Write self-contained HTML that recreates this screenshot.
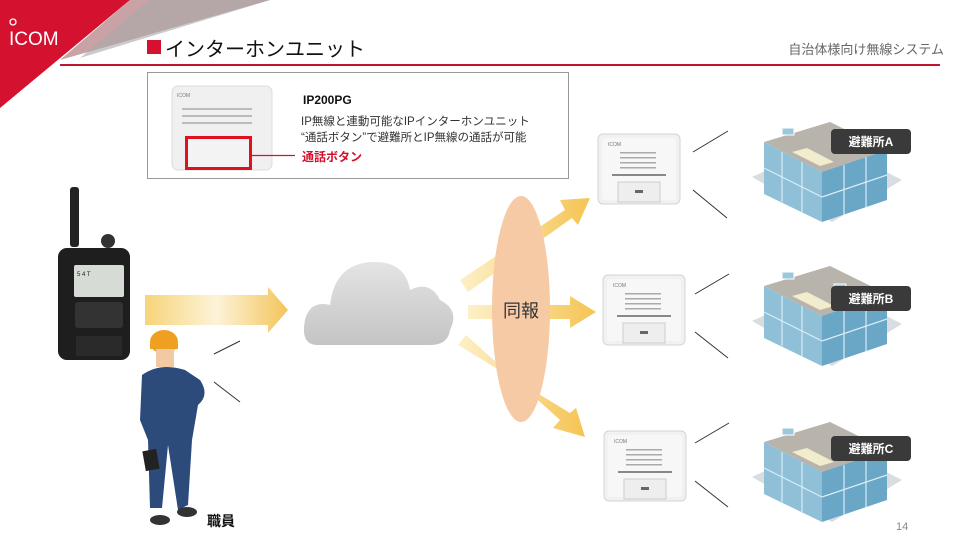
<!DOCTYPE html>
<html><head><meta charset="utf-8"><style>
html,body{margin:0;padding:0;background:#fff}
svg{display:block}
text{font-family:"Liberation Sans","Noto Sans CJK JP",sans-serif}
</style></head><body>
<svg width="979" height="552" viewBox="0 0 979 552" xmlns="http://www.w3.org/2000/svg">
<defs>
<linearGradient id="ya" x1="0" x2="1" y1="0" y2="0">
<stop offset="0" stop-color="#f6d47a"/><stop offset="0.5" stop-color="#fdf3d8"/><stop offset="1" stop-color="#f3c45a"/></linearGradient>
<linearGradient id="yb" x1="0" x2="1" y1="0" y2="0">
<stop offset="0" stop-color="#fdf0c8"/><stop offset="1" stop-color="#f5c453"/></linearGradient>
<linearGradient id="cl" x1="0" x2="0" y1="0" y2="1">
<stop offset="0" stop-color="#e4e4e4"/><stop offset="1" stop-color="#c4c4c4"/></linearGradient>
<g id="dev">
<rect x="0" y="0" width="82" height="70" rx="5" fill="#f1f1f1" stroke="#d4d4d4"/>
<rect x="4" y="4" width="74" height="62" rx="3" fill="#f7f7f7"/>
<text x="10" y="12" font-size="5" fill="#777">ICOM</text>
<g fill="#aaa">
<rect x="22" y="18" width="36" height="1.5"/><rect x="22" y="23" width="36" height="1.5"/><rect x="22" y="28" width="36" height="1.5"/><rect x="22" y="33" width="36" height="1.5"/></g>
<rect x="14" y="40" width="54" height="2" fill="#888"/>
<rect x="20" y="48" width="42" height="20" fill="#eee" stroke="#ccc"/>
<rect x="37" y="56" width="8" height="3" fill="#666"/>
</g>
<g id="bld">
<polygon points="0,55 75,20 150,58 80,100" fill="#d8dde0"/>
<polygon points="12,20 78,0 135,28 70,50" fill="#b8b4ac"/>
<polygon points="12,20 70,50 70,100 12,72" fill="#8fc0d8"/>
<polygon points="70,50 135,28 135,78 70,100" fill="#6aa6c6"/>
<polygon points="40,30 55,26 82,40 68,44" fill="#f0eccc"/>
<rect x="30" y="6" width="12" height="7" fill="#9cc8de" stroke="#fff"/>
<rect x="82" y="18" width="12" height="7" fill="#9cc8de" stroke="#fff"/>
<g stroke="#d8ecf5" stroke-width="1.2"><line x1="12" y1="46" x2="70" y2="75"/><line x1="70" y1="75" x2="135" y2="53"/><line x1="30" y1="30" x2="30" y2="80"/><line x1="50" y1="40" x2="50" y2="90"/><line x1="92" y1="43" x2="92" y2="93"/><line x1="114" y1="35" x2="114" y2="85"/></g>
</g>
</defs>
<polygon points="0,0 130,0 0,108" fill="#d4112e"/>
<polygon points="130,0 270,0 60,60" fill="#b07a7f" opacity="0.7"/>
<polygon points="150,0 270,0 80,58" fill="#a9a9a9" opacity="0.6"/>
<text x="9" y="45" font-size="19" fill="#fff">ICOM</text>
<circle cx="13" cy="22" r="3" fill="none" stroke="#fff" stroke-width="1.3"/>
<rect x="147" y="40" width="14" height="14" fill="#d4112e"/>
<text x="165" y="56" font-size="20" fill="#111">インターホンユニット</text>
<text x="944" y="54" font-size="13" fill="#666" text-anchor="end">自治体様向け無線システム</text>
<rect x="60" y="64" width="880" height="2" fill="#c0152f"/>
<rect x="147.5" y="72.5" width="421" height="106" fill="#fff" stroke="#999"/>
<rect x="172" y="86" width="100" height="84" rx="6" fill="#f0f0f0" stroke="#ddd"/>
<g fill="#bbb"><rect x="182" y="108" width="70" height="2"/><rect x="182" y="115" width="70" height="2"/><rect x="182" y="122" width="70" height="2"/></g>
<text x="177" y="97" font-size="5" fill="#777">ICOM</text>
<rect x="186.5" y="137.5" width="64" height="31" fill="#f3f3f3" stroke="#e0101e" stroke-width="3"/>
<line x1="251" y1="155.5" x2="295" y2="155.5" stroke="#d4112e" stroke-width="1.2"/>
<text x="302" y="161" font-size="12" fill="#d4112e" font-weight="bold">通話ボタン</text>
<text x="303" y="104" font-size="12" fill="#111" font-weight="bold">IP200PG</text>
<text x="301" y="125" font-size="11.5" fill="#333">IP無線と連動可能なIPインターホンユニット</text>
<text x="301" y="141" font-size="11.5" fill="#333">“通話ボタン”で避難所とIP無線の通話が可能</text>
<rect x="70" y="187" width="9" height="60" rx="3" fill="#222"/>
<circle cx="108" cy="241" r="7" fill="#333"/>
<rect x="58" y="248" width="72" height="112" rx="9" fill="#1e1e1e"/>
<rect x="74" y="265" width="50" height="32" rx="2" fill="#d6dbd6"/>
<text x="77" y="276" font-size="6" fill="#222">5 4 T</text>
<rect x="75" y="302" width="48" height="26" rx="3" fill="#333"/>
<rect x="76" y="336" width="46" height="20" fill="#2a2a2a"/>
<polygon points="145,295 268,295 268,287 288,310 268,333 268,325 145,325" fill="url(#ya)"/>
<line x1="214" y1="354" x2="240" y2="341" stroke="#333"/>
<line x1="214" y1="382" x2="240" y2="402" stroke="#333"/>
<ellipse cx="164" cy="342" rx="14" ry="12" fill="#f0a020"/>
<rect x="150" y="344" width="28" height="5" fill="#f0a020"/>
<rect x="156" y="349" width="18" height="18" fill="#f1c9a3"/>
<path d="M142 375 Q160 362 185 370 L200 380 Q210 395 198 405 L192 440 L188 505 L178 510 L168 445 L162 508 L150 508 L148 440 L140 420 Z" fill="#2c4a7a"/>
<rect x="144" y="450" width="14" height="20" fill="#222" transform="rotate(-10 151 460)"/>
<ellipse cx="160" cy="520" rx="10" ry="5" fill="#333"/>
<ellipse cx="187" cy="512" rx="10" ry="5" fill="#333"/>
<text x="207" y="526" font-size="14" fill="#111" font-weight="bold">職員</text>
<path d="M318 345 Q300 345 305 320 Q310 300 330 305 Q335 262 375 262 Q405 262 410 290 Q430 280 440 300 Q460 310 450 330 Q448 345 430 345 Z" fill="url(#cl)"/>
<polygon points="460,280 565,210 560,200 590,198 578,225 572,218 468,292" fill="url(#yb)"/>
<polygon points="468,305 570,305 570,296 596,312 570,328 570,319 468,319" fill="url(#yb)"/>
<polygon points="466,335 560,420 553,428 585,437 576,408 570,413 458,345" fill="url(#yb)"/>
<ellipse cx="521" cy="309" rx="29" ry="113" fill="#f7caa6"/>
<text x="521" y="317" font-size="18" fill="#333" text-anchor="middle">同報</text>
<use href="#dev" x="598" y="134"/>
<use href="#dev" x="603" y="275"/>
<use href="#dev" x="604" y="431"/>
<g stroke="#333">
<line x1="693" y1="152" x2="728" y2="131"/><line x1="693" y1="190" x2="727" y2="218"/>
<line x1="695" y1="294" x2="729" y2="274"/><line x1="695" y1="332" x2="728" y2="358"/>
<line x1="695" y1="443" x2="729" y2="423"/><line x1="695" y1="481" x2="728" y2="507"/>
</g>
<use href="#bld" x="752" y="122"/>
<use href="#bld" x="752" y="266"/>
<use href="#bld" x="752" y="422"/>
<g font-size="12" fill="#fff" font-weight="bold" text-anchor="middle">
<rect x="831" y="129" width="80" height="25" rx="4" fill="#3a3a3a"/><text x="871" y="146">避難所A</text>
<rect x="831" y="286" width="80" height="25" rx="4" fill="#3a3a3a"/><text x="871" y="303">避難所B</text>
<rect x="831" y="436" width="80" height="25" rx="4" fill="#3a3a3a"/><text x="871" y="453">避難所C</text>
</g>
<text x="896" y="530" font-size="11" fill="#888">14</text>
</svg>
</body></html>
